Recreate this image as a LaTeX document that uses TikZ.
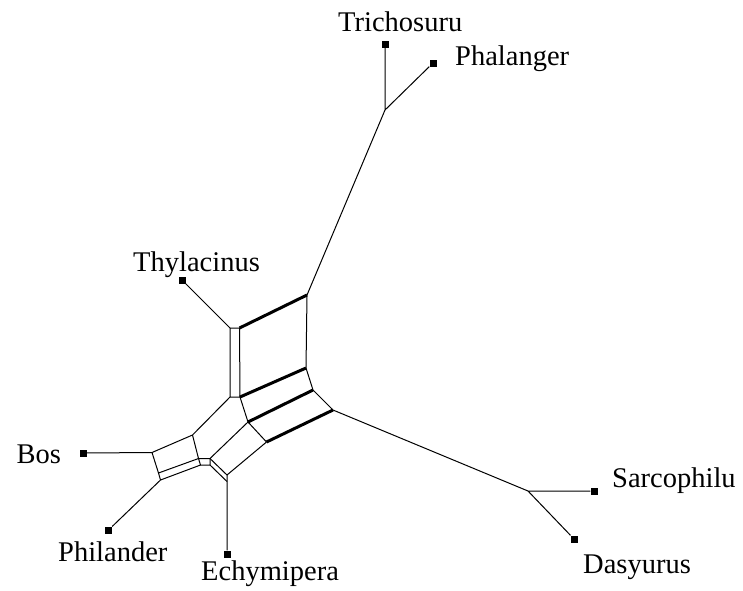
\documentclass[tikz,border=0pt]{standalone}
\usepackage{fontspec}
\setmainfont{Liberation Serif}
\begin{document}
\begin{tikzpicture}[x=1pt,y=-1pt,
  thin edge/.style={line width=1pt,black},
  thick edge/.style={line width=3pt,black},
  leaf/.style={rectangle,fill=black,inner sep=0pt,minimum size=7pt},
  lab/.style={inner sep=0pt,anchor=base west,font=\fontsize{28.5}{30}\selectfont}]
\useasboundingbox (0,0) rectangle (743,590);
% leaves
\node[leaf] (triL) at (385,44) {};
\node[leaf] (phaL) at (433,63) {};
\node[leaf] (thyL) at (182,280) {};
\node[leaf] (bosL) at (83.5,453) {};
\node[leaf] (phiL) at (108.5,530) {};
\node[leaf] (echL) at (227,554) {};
\node[leaf] (sarL) at (594,491) {};
\node[leaf] (dasL) at (574,539) {};
% labels
\node[lab] (triT) at (338,31.5) {Trichosuru};
\node[lab] (phaT) at (455,65) {Phalanger};
\node[lab] (thyT) at (133,271) {Thylacinus};
\node[lab] (bosT) at (16.5,463) {Bos};
\node[lab] (phiT) at (58,561.5) {Philander};
\node[lab] (echT) at (201,580) {Echymipera};
\node[lab] (sarT) at (612,487) {Sarcophilu};
\node[lab] (dasT) at (583,573) {Dasyurus};
% internal points
\coordinate (J1) at (385,110);
\coordinate (J2) at (528,491);
\coordinate (A) at (307,295);
\coordinate (B) at (239.5,328);
\coordinate (Bp) at (230,328);
\coordinate (Cp) at (230,397);
\coordinate (C) at (240,397);
\coordinate (D) at (306,368);
\coordinate (E) at (313,390);
\coordinate (F) at (333,410);
\coordinate (G) at (248,422);
\coordinate (H) at (266.5,442);
\coordinate (P) at (192.5,435);
\coordinate (Q) at (152,452.5);
\coordinate (R2) at (158.5,473);
\coordinate (R) at (160.5,480);
\coordinate (S) at (198.5,458.5);
\coordinate (S2) at (210,458.5);
\coordinate (S3) at (210,465);
\coordinate (S4) at (200.5,465);
\coordinate (T2) at (227,475);
\coordinate (T) at (227,481.5);
% thin edges
\draw[thin edge] (triL) -- (J1) -- (phaL);
\draw[thin edge] (J1) -- (A) -- (D) -- (E) -- (F) -- (J2);
\draw[thin edge] (sarL) -- (J2) -- (dasL);
\draw[thin edge] (thyL) -- (Bp);
\draw[thin edge] (Bp) -- (B) -- (C) -- (Cp) -- cycle;
\draw[thin edge] (C) -- (G) -- (H);
\draw[thin edge] (Cp) -- (P) -- (Q) -- (bosL);
\draw[thin edge] (Q) -- (R2) -- (R) -- (phiL);
\draw[thin edge] (P) -- (S);
\draw[thin edge] (R2) -- (S);
\draw[thin edge] (R) -- (S4);
\draw[thin edge] (S) -- (S2) -- (S3) -- (S4) -- cycle;
\draw[thin edge] (G) -- (S2) -- (T2);
\draw[thin edge] (S3) -- (T);
\draw[thin edge] (H) -- (T2) -- (T) -- (echL);
% thick edges
\draw[thick edge] (B) -- (A);
\draw[thick edge] (C) -- (D);
\draw[thick edge] (G) -- (E);
\draw[thick edge] (H) -- (F);
\end{tikzpicture}
\end{document}
